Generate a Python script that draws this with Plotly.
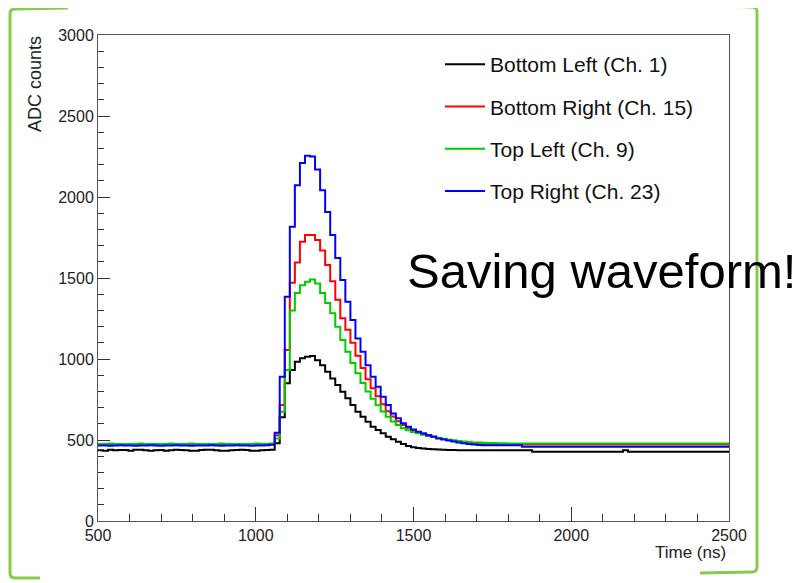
import plotly.graph_objects as go

# ---------------- data ----------------
bin_start = 500      # ns
bin_width = 16       # ns
n_bins = 125

bottom_left_ch1 = [
    436, 434, 440, 436, 438, 438, 434, 440, 440, 436, 434, 436, 438, 434, 436, 440, 438, 436, 434, 434,
    438, 440, 440, 436, 434, 434, 436, 438, 440, 438, 434, 434, 436, 438, 440,
    480, 640, 850, 932, 983, 1004, 1014, 1018, 993, 962, 921, 880, 839, 798,
    757, 716, 674, 643, 613, 582, 561, 541, 520, 504, 489, 475, 463, 455, 450,
    447, 445, 443, 441, 440, 439, 438, 437, 437, 436, 436, 436, 436, 436, 436, 436, 436, 436, 436, 436,
    436, 436,
    428, 428, 428, 428, 428, 428, 428, 428, 428, 428, 428, 428, 428, 428, 428, 428, 428, 428,
    436,
    428, 428, 428, 428, 428, 428, 428, 428, 428, 428, 428, 428, 428, 428, 428, 428, 428, 428, 428, 428,
]

bottom_right_ch15 = [
    472, 472, 470, 472, 474, 472, 472, 470, 472, 472, 474, 472, 470, 472, 472, 474, 472, 472, 470, 472,
    472, 472, 474, 472, 470, 472, 472, 474, 472, 472, 470, 472, 472, 474, 474,
    530, 716, 1055, 1470, 1596, 1723, 1765, 1765, 1735, 1670, 1580, 1480, 1365, 1251,
    1180, 1100, 1020, 945, 875, 820, 770, 720, 678, 645, 615, 593, 576, 562, 550,
    540, 530, 521, 513, 506, 500, 494, 489, 485, 481, 478, 476, 474, 472, 472, 472, 472, 472, 472, 472,
    472, 472, 472, 472, 472, 472, 472, 472, 472, 472, 472, 472, 472, 472, 472, 472, 472, 472, 472, 472,
    472, 472, 472, 472, 472, 472, 472, 472, 472, 472, 472, 472, 472, 472, 472, 472, 472, 472, 472, 472,
    472, 472, 472, 484, 492,
]

top_left_ch9 = [
    476, 476, 478, 476, 476, 474, 476, 476, 478, 476, 476, 476, 474, 476, 478, 476, 476, 476, 478, 476,
    476, 474, 476, 476, 478, 476, 476, 476, 474, 476, 476, 478, 476, 476, 478,
    510, 674, 932, 1300, 1407, 1456, 1477, 1490, 1466, 1407, 1345, 1283, 1199, 1117,
    1045, 975, 912, 852, 800, 755, 715, 676, 643, 614, 592, 573, 560, 550, 541,
    532, 525, 518, 512, 507, 502, 498, 494, 490, 487, 485, 484, 483, 482, 481, 480, 480, 479, 479, 478,
    478, 478, 478, 478, 478, 478, 478, 478, 478, 478, 478, 478, 478, 478, 478, 478, 478, 478, 478, 478,
    478, 478, 478, 478, 478, 478, 478, 478, 478, 478, 478, 478, 478, 478, 478, 478, 478, 478, 478, 478,
    478, 478, 478, 478, 478,
]

top_right_ch23 = [
    466, 466, 464, 466, 468, 466, 466, 464, 466, 466, 468, 466, 464, 466, 466, 468, 466, 466, 464, 466,
    466, 466, 468, 466, 464, 466, 466, 468, 466, 466, 464, 466, 466, 468, 470,
    545, 890, 1384, 1816, 2073, 2210, 2254, 2250, 2170, 2042, 1908, 1765, 1623, 1487,
    1353, 1240, 1127, 1045, 962, 890, 829, 767, 716, 664, 634, 603, 582, 565, 551,
    540, 530, 520, 510, 503, 497, 490, 485, 480, 476, 472, 469, 468, 468, 468, 468, 468, 468, 468, 468,
    458, 458, 458, 458, 458, 458, 458, 458, 458, 458, 458, 458, 458, 458, 458, 458, 458, 458, 458, 458,
    458, 458, 458, 458, 458, 458, 458, 458, 458, 458, 458, 458, 458, 458, 458, 458, 458, 458, 458, 458,
    458,
]

series_names = ["Bottom Left (Ch. 1)", "Bottom Right (Ch. 15)", "Top Left (Ch. 9)", "Top Right (Ch. 23)"]
series_values = [bottom_left_ch1, bottom_right_ch15, top_left_ch9, top_right_ch23]
series_colors = ["#000000", "#ff0000", "#00cc00", "#0000ff"]

x_ticks = [500, 1000, 1500, 2000, 2500]
y_ticks = [0, 500, 1000, 1500, 2000, 2500, 3000]

# ---------------- figure ----------------
W, H = 802, 583
OFF = 8                         # page body margin of the html page
L, R, T, B = 98, 729, 35, 521   # plot-area pixel box in the screenshot


def px_x(p):
    return (p - L) / (R - L)


def px_y(p):
    return (B - p) / (B - T)


edges = list(range(bin_start, bin_start + bin_width * n_bins + 1, bin_width))

fig = go.Figure()
for name, vals, col in zip(series_names, series_values, series_colors):
    fig.add_trace(go.Scatter(
        x=edges, y=vals + [vals[-1]], mode="lines", name=name,
        line=dict(color=col, width=2, shape="hv"),
        legendgroup=name,
    ))

FONT = "Liberation Sans, Arial, sans-serif"
axis_font = dict(family=FONT, size=16, color="#222")

fig.update_layout(
    width=W, height=H,
    margin=dict(l=L - OFF, r=W - (R - OFF), t=T - OFF, b=H - (B - OFF)),
    paper_bgcolor="white", plot_bgcolor="white",
    showlegend=True,
    legend=dict(
        x=px_x(440), y=px_y(44), xanchor="left", yanchor="top",
        bgcolor="rgba(0,0,0,0)", borderwidth=0,
        font=dict(family=FONT, size=21, color="#111"),
        traceorder="grouped", tracegroupgap=12, itemwidth=40,
    ),
    xaxis=dict(
        range=[500, 2500], tickvals=x_ticks, ticks="inside", ticklen=14, tickcolor="#333",
        showline=True, linecolor="#555", linewidth=1, mirror=True, showgrid=False, zeroline=False,
        tickfont=axis_font,
        minor=dict(ticks="inside", ticklen=7, dtick=100, tick0=500, tickcolor="#333", showgrid=False),
    ),
    yaxis=dict(
        range=[0, 3000], tickvals=y_ticks, ticks="inside", ticklen=12, tickcolor="#333",
        showline=True, linecolor="#555", linewidth=1, mirror=True, showgrid=False, zeroline=False,
        tickfont=axis_font,
        minor=dict(ticks="inside", ticklen=6, dtick=100, tick0=0, tickcolor="#333", showgrid=False),
    ),
)

# axis titles (ROOT style: flush to the axis ends)
fig.add_annotation(text="ADC counts", xref="paper", yref="paper", x=px_x(35), y=px_y(84),
                   textangle=-90, showarrow=False, xanchor="center", yanchor="middle",
                   font=dict(family=FONT, size=18, color="#222"))
fig.add_annotation(text="Time (ns)", xref="paper", yref="paper", x=px_x(728), y=px_y(552),
                   showarrow=False, xanchor="right", yanchor="middle",
                   font=dict(family=FONT, size=17, color="#222"))

# overlay label
fig.add_annotation(text="Saving waveform!", xref="paper", yref="paper", x=px_x(405), y=px_y(271),
                   showarrow=False, xanchor="left", yanchor="middle",
                   font=dict(family=FONT, size=49, color="#000"))

# green slide brackets
bracket = dict(color="#8cc84b", width=3)


def P(xp, yp):
    return f"{px_x(xp):.5f},{px_y(yp):.5f}"


left_path = f"M {P(68, 8)} L {P(15, 9)} Q {P(10, 9)} {P(10, 14)} L {P(10, 573)} Q {P(10, 578)} {P(15, 578)} L {P(40, 578)}"
right_path = f"M {P(700, 5)} L {P(752, 7)} Q {P(757, 7)} {P(757, 12)} L {P(757, 567)} Q {P(757, 572)} {P(752, 572)} L {P(700, 573)}"
fig.add_shape(type="path", path=left_path, xref="paper", yref="paper", line=bracket)
fig.add_shape(type="path", path=right_path, xref="paper", yref="paper", line=bracket)

fig.write_html("out.html")
